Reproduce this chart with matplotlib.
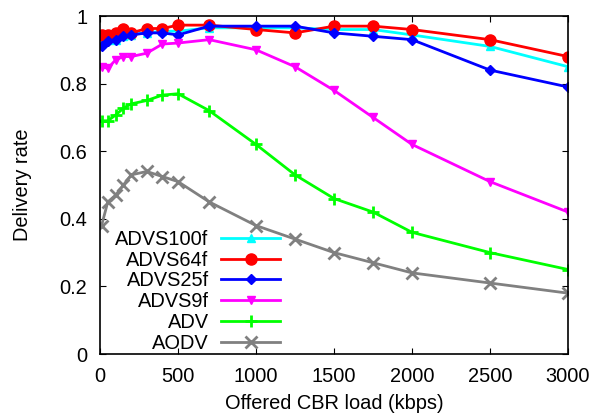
import numpy as np
import matplotlib
matplotlib.use("Agg")
import matplotlib.pyplot as plt

plt.rcParams['font.family'] = ['Liberation Sans', 'DejaVu Sans']

# carga ofrecida (kbps)
load = [10, 50, 100, 150, 200, 300, 400, 500, 700, 1000, 1250, 1500, 1750, 2000, 2500, 3000]

advs100f = [0.92, 0.93, 0.93, 0.94, 0.945, 0.95, 0.955, 0.955, 0.965, 0.965, 0.965, 0.96, 0.96, 0.944, 0.91, 0.85]
advs64f = [0.944, 0.944, 0.95, 0.963, 0.95, 0.963, 0.963, 0.973, 0.973, 0.96, 0.95, 0.97, 0.97, 0.96, 0.93, 0.88]
advs25f = [0.91, 0.925, 0.93, 0.94, 0.944, 0.95, 0.95, 0.944, 0.97, 0.97, 0.97, 0.95, 0.94, 0.93, 0.84, 0.79]
advs9f = [0.85, 0.845, 0.87, 0.88, 0.88, 0.89, 0.917, 0.92, 0.93, 0.90, 0.85, 0.78, 0.70, 0.62, 0.51, 0.42]
adv = [0.69, 0.69, 0.707, 0.727, 0.74, 0.75, 0.766, 0.77, 0.72, 0.62, 0.53, 0.46, 0.42, 0.36, 0.30, 0.25]
aodv = [0.38, 0.45, 0.47, 0.50, 0.53, 0.54, 0.525, 0.51, 0.45, 0.38, 0.34, 0.30, 0.27, 0.24, 0.21, 0.18]

etiquetas = ['ADVS100f', 'ADVS64f', 'ADVS25f', 'ADVS9f', 'ADV', 'AODV']
series = [advs100f, advs64f, advs25f, advs9f, adv, aodv]
colores = ['#00ffff', '#ff0000', '#0000ff', '#ff00ff', '#00ff00', '#808080']
marcadores = ['^', 'o', 'D', 'v', '+', 'x']
tamanos = [6, 8, 5, 6, 9, 8]

fig = plt.figure(figsize=(5.93, 4.19), dpi=100)
ax = fig.add_axes([100/593, 65/419, 468/593, 338/419])

for datos, etiqueta, color, marca, tam in zip(series, etiquetas, colores, marcadores, tamanos):
    ax.plot(load, datos, color=color, marker=marca, markersize=tam, linewidth=2,
            markeredgewidth=2 if marca in ('+', 'x') else 1, label=etiqueta)

ax.set_xlim(0, 3000)
ax.set_ylim(0, 1)
ax.set_xticks(np.arange(0, 3001, 500))
ax.set_yticks([0, 0.2, 0.4, 0.6, 0.8, 1])
ax.set_yticklabels(['0', '0.2', '0.4', '0.6', '0.8', '1'])
ax.tick_params(direction='in', top=True, right=True, labelsize=14.4, length=4, pad=9)
for s in ax.spines.values():
    s.set_linewidth(1.2)

ax.set_xlabel('Offered CBR load (kbps)', fontsize=14.4, labelpad=6)
ax.set_ylabel('Delivery rate', fontsize=14.4, labelpad=20)

ax.legend(loc='upper right', bbox_to_anchor=(0.385, 0.368), frameon=False, markerfirst=False,
          fontsize=14.4, handlelength=2.95, labelspacing=0.095, borderaxespad=0, borderpad=0,
          handletextpad=0.63)

fig.savefig('out.png', dpi=100)
